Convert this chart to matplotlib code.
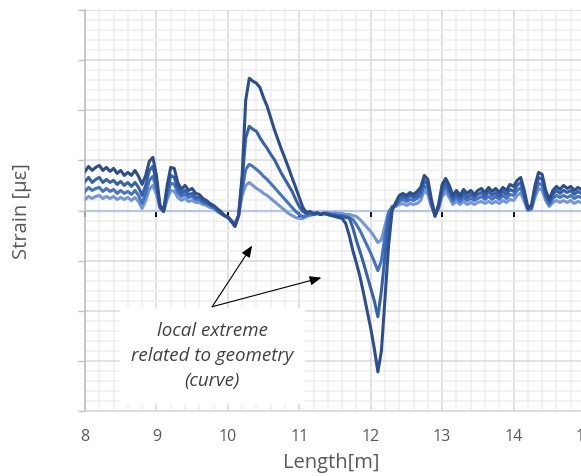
import matplotlib
matplotlib.use("Agg")
import matplotlib.pyplot as plt
from matplotlib.ticker import MultipleLocator, NullFormatter
from matplotlib.patches import Rectangle

plt.rcParams['font.family'] = ['Open Sans', 'DejaVu Sans']

# ---------------- data ----------------
length_m = [
    8.00, 8.05, 8.10, 8.15, 8.20, 8.25, 8.30, 8.35, 8.40, 8.45,
    8.50, 8.55, 8.60, 8.65, 8.70, 8.75, 8.80, 8.85, 8.90, 8.95,
    9.00, 9.05, 9.10, 9.15, 9.20, 9.25, 9.30, 9.35, 9.40, 9.45,
    9.50, 9.55, 9.60, 9.65, 9.70, 9.75, 9.80, 9.85, 9.90, 9.95,
    10.00, 10.05, 10.10, 10.15, 10.20, 10.25, 10.30, 10.35, 10.40, 10.45,
    10.50, 10.55, 10.60, 10.65, 10.70, 10.75, 10.80, 10.85, 10.90, 10.95,
    11.00, 11.05, 11.10, 11.15, 11.20, 11.25, 11.30, 11.35, 11.40, 11.45,
    11.50, 11.55, 11.60, 11.65, 11.70, 11.75, 11.80, 11.85, 11.90, 11.95,
    12.00, 12.05, 12.10, 12.15, 12.20, 12.25, 12.30,
    12.35, 12.40, 12.45, 12.50, 12.55, 12.60, 12.65, 12.70, 12.75, 12.80,
    12.85, 12.90, 12.95, 13.00, 13.05, 13.10, 13.15, 13.20, 13.25, 13.30,
    13.35, 13.40, 13.45, 13.50, 13.55, 13.60, 13.65, 13.70, 13.75, 13.80,
    13.85, 13.90, 13.95, 14.00, 14.05, 14.10, 14.15, 14.20, 14.25, 14.30,
    14.35, 14.40, 14.45, 14.50, 14.55, 14.60, 14.65, 14.70, 14.75, 14.80,
    14.85, 14.90, 14.95, 15.00,
]

strain_1 = [  # darkest
    0.78, 0.88, 0.80, 0.86, 0.90, 0.80, 0.86, 0.78, 0.84, 0.74,
    0.80, 0.70, 0.76, 0.70, 0.80, 0.68, 0.52, 0.70, 0.98, 1.06,
    0.70, 0.10, 0.00, 0.50, 0.86, 0.84, 0.55, 0.42, 0.50, 0.40,
    0.44, 0.34, 0.32, 0.24, 0.20, 0.14, 0.10, 0.04, -0.02, -0.10,
    -0.12, -0.22, -0.32, -0.10, 0.70, 2.20, 2.64, 2.58, 2.54, 2.45,
    2.25, 2.08, 1.85, 1.62, 1.42, 1.22, 1.04, 0.85, 0.65, 0.46,
    0.26, 0.06, -0.04, -0.02, -0.06, -0.04, -0.08, -0.06, -0.08, -0.10,
    -0.12, -0.14, -0.16, -0.26, -0.50, -0.80, -1.05, -1.32, -1.65, -2.00,
    -2.35, -2.75, -3.22, -2.80, -1.75, -0.70, 0.00,
    0.16, 0.30, 0.34, 0.30, 0.36, 0.32, 0.38, 0.46, 0.70, 0.62,
    0.22, -0.10, 0.12, 0.52, 0.64, 0.50, 0.30, 0.40, 0.30, 0.42,
    0.34, 0.40, 0.32, 0.40, 0.44, 0.36, 0.46, 0.38, 0.44, 0.36,
    0.46, 0.40, 0.52, 0.48, 0.60, 0.66, 0.40, 0.06, 0.10, 0.50,
    0.76, 0.72, 0.40, 0.22, 0.40, 0.48, 0.42, 0.50, 0.44, 0.48,
    0.40, 0.46, 0.42, 0.44,
]

strain_2 = [
    0.58, 0.66, 0.56, 0.62, 0.66, 0.56, 0.62, 0.56, 0.60, 0.52,
    0.58, 0.50, 0.56, 0.48, 0.56, 0.46, 0.30, 0.50, 0.80, 0.88,
    0.56, 0.08, -0.02, 0.40, 0.70, 0.66, 0.44, 0.34, 0.40, 0.32,
    0.34, 0.26, 0.26, 0.20, 0.16, 0.12, 0.08, 0.02, -0.04, -0.10,
    -0.14, -0.22, -0.30, -0.10, 0.60, 1.45, 1.68, 1.62, 1.58, 1.45,
    1.34, 1.24, 1.12, 1.02, 0.88, 0.74, 0.62, 0.50, 0.38, 0.22,
    0.08, -0.02, -0.06, -0.04, -0.08, -0.06, -0.08, -0.06, -0.08, -0.10,
    -0.10, -0.12, -0.12, -0.14, -0.15, -0.35, -0.60, -0.82, -1.05, -1.30,
    -1.55, -1.80, -2.12, -1.60, -0.90, -0.20, 0.05,
    0.12, 0.24, 0.28, 0.24, 0.30, 0.26, 0.30, 0.38, 0.60, 0.52,
    0.16, -0.12, 0.08, 0.44, 0.56, 0.42, 0.24, 0.32, 0.24, 0.34,
    0.26, 0.32, 0.26, 0.32, 0.36, 0.28, 0.38, 0.30, 0.36, 0.28,
    0.38, 0.32, 0.42, 0.38, 0.50, 0.56, 0.32, 0.02, 0.06, 0.42,
    0.66, 0.62, 0.32, 0.16, 0.32, 0.40, 0.34, 0.40, 0.36, 0.40,
    0.32, 0.38, 0.34, 0.36,
]

strain_3 = [
    0.38, 0.46, 0.40, 0.44, 0.46, 0.38, 0.44, 0.38, 0.42, 0.34,
    0.40, 0.34, 0.38, 0.32, 0.40, 0.30, 0.14, 0.34, 0.60, 0.68,
    0.44, 0.06, -0.02, 0.30, 0.55, 0.52, 0.36, 0.28, 0.32, 0.26,
    0.28, 0.22, 0.22, 0.16, 0.14, 0.10, 0.06, 0.00, -0.06, -0.10,
    -0.14, -0.20, -0.28, -0.10, 0.40, 0.82, 0.92, 0.88, 0.82, 0.76,
    0.68, 0.62, 0.54, 0.46, 0.38, 0.30, 0.22, 0.14, 0.06, -0.02,
    -0.08, -0.12, -0.10, -0.08, -0.08, -0.06, -0.08, -0.06, -0.06, -0.08,
    -0.08, -0.10, -0.10, -0.12, -0.14, -0.18, -0.28, -0.40, -0.55, -0.70,
    -0.85, -1.02, -1.20, -1.00, -0.50, -0.05, 0.08,
    0.10, 0.18, 0.22, 0.18, 0.22, 0.20, 0.24, 0.30, 0.50, 0.42,
    0.12, -0.10, 0.06, 0.36, 0.46, 0.34, 0.18, 0.26, 0.18, 0.26,
    0.20, 0.24, 0.20, 0.24, 0.28, 0.22, 0.28, 0.22, 0.28, 0.22,
    0.30, 0.24, 0.32, 0.30, 0.40, 0.45, 0.26, 0.02, 0.04, 0.34,
    0.55, 0.50, 0.26, 0.12, 0.24, 0.30, 0.26, 0.30, 0.26, 0.30,
    0.24, 0.28, 0.26, 0.28,
]

strain_4 = [  # lightest
    0.22, 0.28, 0.24, 0.28, 0.30, 0.24, 0.28, 0.24, 0.28, 0.22,
    0.26, 0.22, 0.26, 0.20, 0.26, 0.18, 0.04, 0.20, 0.42, 0.50,
    0.32, 0.04, -0.02, 0.22, 0.40, 0.38, 0.26, 0.20, 0.24, 0.18,
    0.20, 0.16, 0.16, 0.12, 0.10, 0.06, 0.04, -0.02, -0.06, -0.10,
    -0.14, -0.20, -0.26, -0.10, 0.30, 0.50, 0.56, 0.50, 0.44, 0.40,
    0.34, 0.30, 0.24, 0.18, 0.12, 0.06, 0.00, -0.06, -0.10, -0.14,
    -0.16, -0.16, -0.12, -0.10, -0.08, -0.06, -0.06, -0.04, -0.04, -0.06,
    -0.04, -0.06, -0.06, -0.08, -0.08, -0.10, -0.12, -0.18, -0.26, -0.34,
    -0.42, -0.52, -0.64, -0.58, -0.30, -0.02, 0.06,
    0.08, 0.12, 0.14, 0.10, 0.14, 0.12, 0.14, 0.20, 0.40, 0.32,
    0.08, -0.08, 0.04, 0.28, 0.36, 0.26, 0.12, 0.18, 0.12, 0.18,
    0.12, 0.16, 0.12, 0.16, 0.18, 0.14, 0.18, 0.14, 0.18, 0.14,
    0.20, 0.16, 0.22, 0.20, 0.30, 0.35, 0.18, 0.00, 0.02, 0.26,
    0.44, 0.40, 0.20, 0.08, 0.16, 0.20, 0.16, 0.20, 0.16, 0.20,
    0.14, 0.18, 0.16, 0.18,
]

series = [strain_4, strain_3, strain_2, strain_1]
colors = ['#7396d8', '#4472c4', '#3560aa', '#2c4e8e']

x_ticks = [8, 9, 10, 11, 12, 13, 14, 15]
annotation_text = "local extreme\nrelated to geometry\n(curve)"

# ---------------- figure ----------------
W, H = 581, 477
fig = plt.figure(figsize=(W / 100, H / 100), dpi=100)
ax = fig.add_axes([85 / W, 1 - 412 / H, 500 / W, 401 / H])

ax.set_xlim(8, 15)
ax.set_ylim(-4, 4)
ax.xaxis.set_minor_locator(MultipleLocator(0.2))
ax.yaxis.set_major_locator(MultipleLocator(1))
ax.yaxis.set_minor_locator(MultipleLocator(0.2))
ax.set_xticks(x_ticks)
ax.set_xticklabels([str(t) for t in x_ticks])
ax.yaxis.set_major_formatter(NullFormatter())

ax.set_axisbelow(True)
ax.grid(which='major', color='#d9d9d9', linewidth=1.1)
ax.grid(which='minor', color='#eeeeee', linewidth=1.1)

for s in ['top', 'right']:
    ax.spines[s].set_visible(False)
ax.spines['left'].set_color('#bfbfbf')
ax.spines['left'].set_linewidth(1.2)
ax.spines['bottom'].set_color('#d9d9d9')
ax.spines['bottom'].set_linewidth(1.1)

ax.tick_params(axis='x', which='both', length=0, pad=12, labelsize=11.5, labelcolor='#595959')
ax.tick_params(axis='y', which='major', length=5, color='#bfbfbf', width=1.0)
ax.tick_params(axis='y', which='minor', length=0)

# horizontal axis crossing at zero, with its tick marks (no labels)
sec = ax.secondary_xaxis(0.5)
sec.set_alignment('bottom')
sec.set_zorder(1)
sec.spines['bottom'].set_color('#b4c7e7')
sec.spines['bottom'].set_linewidth(1.6)
sec.set_xticks(x_ticks)
sec.tick_params(axis='x', which='major', direction='out', length=4, width=1.3,
                color='black', labelbottom=False, labeltop=False)
sec.tick_params(axis='x', which='minor', length=0)

for ys, c in zip(series, colors):
    ax.plot(length_m, ys, color=c, linewidth=2.2, solid_joinstyle='round',
            zorder=3)

ax.set_xlabel('Length[m]', fontsize=14.5, color='#595959')
ax.xaxis.set_label_coords(0.492, -0.128)
ax.xaxis.label.set_verticalalignment('center')
ax.set_ylabel('Strain [\u03bc\u03b5]', fontsize=14.5, color='#595959')
ax.yaxis.set_label_coords(-0.126, 0.5)
ax.yaxis.label.set_verticalalignment('center')

# annotation box with arrows
box = Rectangle((8.49, -3.86), 2.59, 1.92, facecolor='white', edgecolor='none',
                zorder=4, clip_on=False)
ax.add_patch(box)
ax.text(9.78, -2.88, annotation_text, ha='center', va='center', fontsize=13.5,
        style='italic', color='#404040', linespacing=1.5, zorder=5)
arrow_kw = dict(arrowstyle='-|>,head_length=0.7,head_width=0.28', color='black',
                lw=0.8, shrinkA=0, shrinkB=0)
ax.annotate('', xy=(10.34, -0.70), xytext=(9.78, -1.92), arrowprops=arrow_kw, zorder=6)
ax.annotate('', xy=(11.31, -1.34), xytext=(9.78, -1.92), arrowprops=arrow_kw, zorder=6)

fig.savefig('out.png', dpi=100)
